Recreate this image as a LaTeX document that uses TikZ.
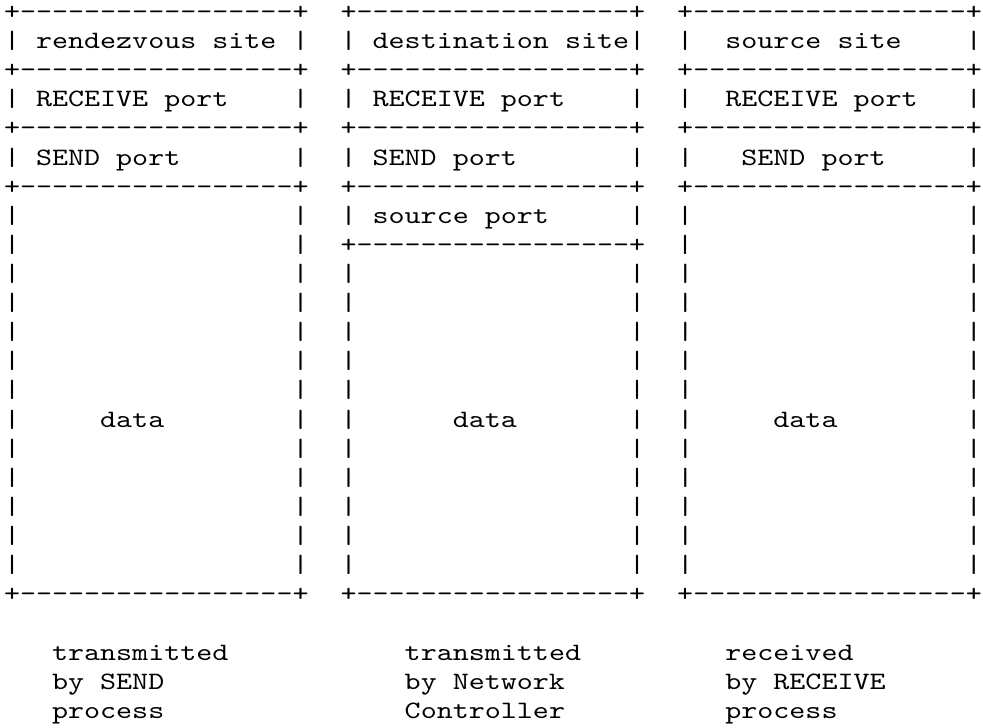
\documentclass[tikz,border=0pt]{standalone}
\usepackage{graphicx}
\newcommand\gap[1]{\kern#1\fontcharwd\font`\x\relax}
\newcommand\asciidash{-\kern0pt}
\newcommand\asciirule{+\asciidash\asciidash\asciidash\asciidash\asciidash\asciidash\asciidash\asciidash\asciidash\asciidash\asciidash\asciidash\asciidash\asciidash\asciidash\asciidash\asciidash+}
\newcommand\asciiempty{|\gap{17}|}
\newcommand\asctext[1]{\scalebox{3.0533}[2.5]{#1}}
\tikzset{
  asc/.style={anchor=base west, inner sep=0pt, outer sep=0pt,
    font=\fontsize{10}{12}\selectfont\ttfamily}
}
\begin{document}
\begin{tikzpicture}[x=1pt,y=-1pt]
\useasboundingbox (0,0) rectangle (983,728);
\def\rowy#1{19.4+29.12*#1}
\node[asc] (r0) at (4,{\rowy{0}}) {\asctext{\asciirule\gap2\asciirule\gap2\asciirule}};
\node[asc] (r1) at (4,{\rowy{1}}) {\asctext{|\gap1rendezvous site\gap1|\gap2|\gap1destination site|\gap2|\gap2source site\gap4|}};
\node[asc] (r2) at (4,{\rowy{2}}) {\asctext{\asciirule\gap2\asciirule\gap2\asciirule}};
\node[asc] (r3) at (4,{\rowy{3}}) {\asctext{|\gap1RECEIVE port\gap4|\gap2|\gap1RECEIVE port\gap4|\gap2|\gap2RECEIVE port\gap3|}};
\node[asc] (r4) at (4,{\rowy{4}}) {\asctext{\asciirule\gap2\asciirule\gap2\asciirule}};
\node[asc] (r5) at (4,{\rowy{5}}) {\asctext{|\gap1SEND port\gap7|\gap2|\gap1SEND port\gap7|\gap2|\gap3SEND port\gap5|}};
\node[asc] (r6) at (4,{\rowy{6}}) {\asctext{\asciirule\gap2\asciirule\gap2\asciirule}};
\node[asc] (r7) at (4,{\rowy{7}}) {\asctext{\asciiempty\gap2|\gap1source port\gap5|\gap2\asciiempty}};
\node[asc] (r8) at (4,{\rowy{8}}) {\asctext{\asciiempty\gap2\asciirule\gap2\asciiempty}};
\foreach \i in {9,...,13,15,16,...,19}
  \node[asc] (r\i) at (4,{\rowy{\i}}) {\asctext{\asciiempty\gap2\asciiempty\gap2\asciiempty}};
\node[asc] (r14) at (4,{\rowy{14}}) {\asctext{|\gap5data\gap8|\gap2|\gap6data\gap7|\gap2|\gap5data\gap8|}};
\node[asc] (r20) at (4,{\rowy{20}}) {\asctext{\asciirule\gap2\asciirule\gap2\asciirule}};
\node[asc] (r22) at (4,{\rowy{22}}) {\asctext{\gap3transmitted\gap{11}transmitted\gap9received}};
\node[asc] (r23) at (4,{\rowy{23}}) {\asctext{\gap3by SEND\gap{15}by Network\gap{10}by RECEIVE}};
\node[asc] (r24) at (4,{\rowy{24}}) {\asctext{\gap3process\gap{15}Controller\gap{10}process}};
\end{tikzpicture}
\end{document}
